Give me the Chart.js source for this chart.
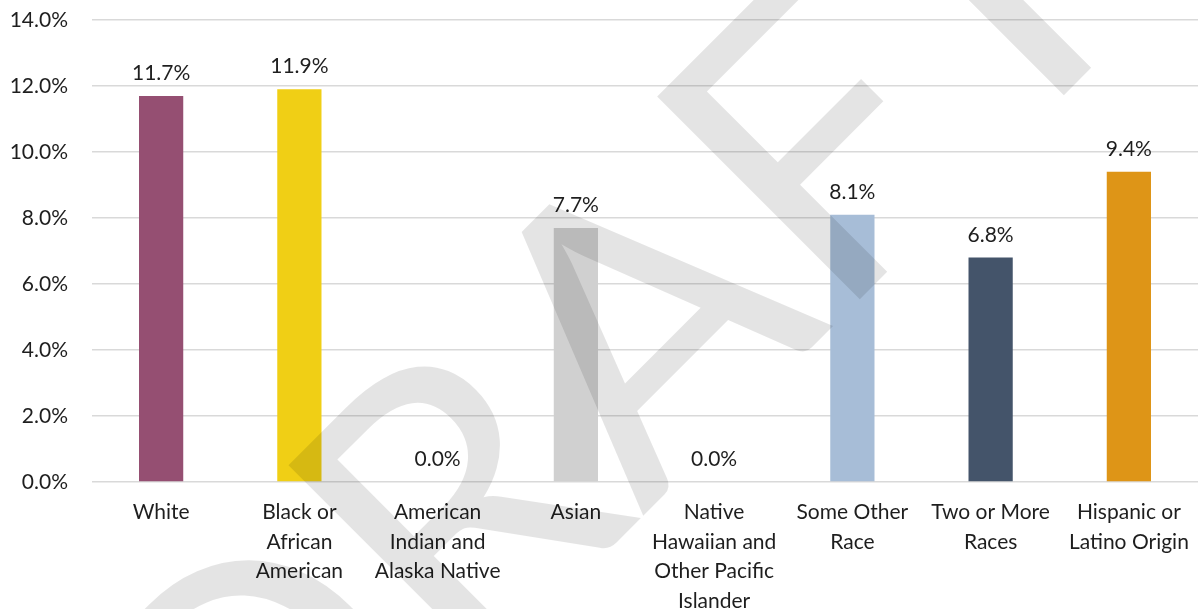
<!DOCTYPE html>
<html>
<head>
<meta charset="utf-8">
<script src="https://cdn.jsdelivr.net/npm/chart.js@4.4.0/dist/chart.umd.min.js"></script>
<style>
  html, body { margin: 0; padding: 0; background: #fff; }
  #wrap { width: 1198px; height: 609px; position: relative; }
</style>
</head>
<body>
<div id="wrap"><canvas id="myChart"></canvas></div>
<script>
const FONT = "Lato, 'Open Sans', sans-serif";

// Race / ethnicity groups and their percentages
const categories = [
  'White',
  ['Black or', 'African', 'American'],
  ['American', 'Indian and', 'Alaska Native'],
  'Asian',
  ['Native', 'Hawaiian and', 'Other Pacific', 'Islander'],
  ['Some Other', 'Race'],
  ['Two or More', 'Races'],
  ['Hispanic or', 'Latino Origin'],
];
const values = [11.7, 11.9, 0.0, 7.7, 0.0, 8.1, 6.8, 9.4];
const barColors = ['#954F72', '#F0CF15', '#4E8542', '#D0D0D0', '#7F7F7F', '#A7BDD7', '#44546A', '#DE9517'];
const yTicks = [0, 2, 4, 6, 8, 10, 12, 14];

// value labels above each bar
const barLabels = {
  id: 'barLabels',
  afterDatasetsDraw(chart) {
    const ctx = chart.ctx;
    const meta = chart.getDatasetMeta(0);
    ctx.save();
    ctx.font = `21px ${FONT}`;
    ctx.fillStyle = '#1e1e1e';
    ctx.textAlign = 'center';
    ctx.textBaseline = 'alphabetic';
    meta.data.forEach((bar, i) => {
      ctx.fillText(values[i].toFixed(1) + '%', bar.x, bar.y - 16);
    });
    ctx.restore();
  }
};

// big diagonal DRAFT stamp over the whole chart
const watermark = {
  id: 'watermark',
  afterDraw(chart) {
    const ctx = chart.ctx;
    ctx.save();
    ctx.font = `400px ${FONT}`;
    ctx.fillStyle = 'rgba(0, 0, 0, 0.105)';
    ctx.textAlign = 'left';
    ctx.textBaseline = 'alphabetic';
    // offset so the F stem lands on the anchor point
    const lead = ctx.measureText('DRA').width - ctx.measureText('F').actualBoundingBoxLeft;
    ctx.translate(856, 303);
    ctx.rotate(-Math.PI / 4);
    ctx.fillText('DRAFT', -lead, 0);
    ctx.restore();
  }
};

const ctx = document.getElementById('myChart').getContext('2d');
const myChart = new Chart(ctx, {
  type: 'bar',
  data: {
    labels: categories,
    datasets: [{
      data: values,
      backgroundColor: barColors,
      borderWidth: 0,
      categoryPercentage: 1.0,
      barPercentage: 0.32,
    }],
  },
  options: {
    responsive: true,
    maintainAspectRatio: false,
    animation: false,
    layout: { padding: { top: 20, right: 0, bottom: 0, left: 0 } },
    plugins: {
      legend: { display: false },
      tooltip: { enabled: false },
    },
    scales: {
      x: {
        grid: { display: false, drawTicks: false },
        border: { display: false },
        ticks: {
          color: '#1e1e1e',
          font: { family: FONT, size: 21, lineHeight: 1.4 },
          padding: 16,
          maxRotation: 0,
          autoSkip: false,
        },
        afterFit(scale) {
          scale.height = 127;
          scale.paddingLeft = 0;
          scale.paddingRight = 0;
        },
      },
      y: {
        min: 0,
        max: 14,
        afterBuildTicks(scale) { scale.ticks = yTicks.map(v => ({ value: v })); },
        grid: { color: '#d9d9d9', lineWidth: 1.5, drawTicks: false },
        border: { display: false },
        ticks: {
          color: '#1e1e1e',
          font: { family: FONT, size: 21 },
          padding: 24,
          callback: v => v.toFixed(1) + '%',
        },
        afterFit(scale) {
          scale.width = 92;
          scale.paddingTop = 0;
          scale.paddingBottom = 0;
        },
      },
    },
  },
  plugins: [barLabels, watermark],
});
</script>
</body>
</html>
